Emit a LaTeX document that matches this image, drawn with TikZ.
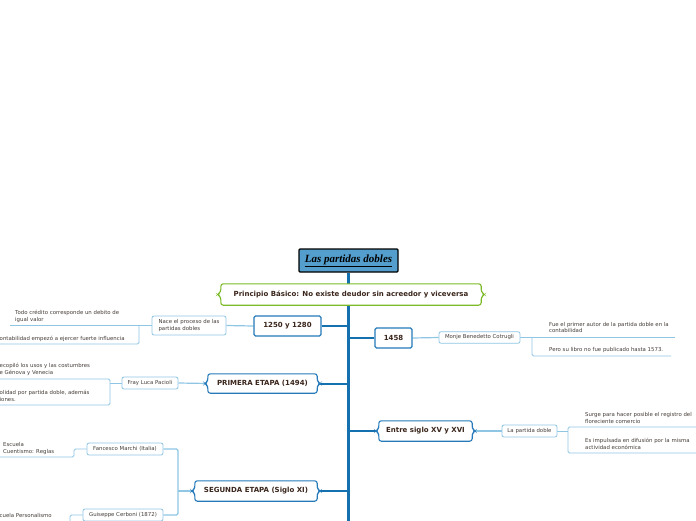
\documentclass[tikz,border=0pt]{standalone}
\usepackage{fontspec}
\newfontfamily\dv{DejaVu Sans}
\newfontfamily\tms{Liberation Serif}
\definecolor{trunkc}{RGB}{21,112,176}
\definecolor{mainb}{RGB}{38,122,186}
\definecolor{subb}{RGB}{142,198,228}
\definecolor{greenb}{RGB}{124,186,40}
\definecolor{titlef}{RGB}{84,158,205}
\definecolor{txt}{RGB}{58,38,28}
\definecolor{txt2}{RGB}{70,62,58}
\pgfdeclarelayer{back}
\pgfdeclarelayer{mid}
\pgfsetlayers{back,mid,main}
\tikzset{
 mainnode/.style={inner sep=0pt, font=\dv\bfseries\fontsize{7}{8.5}\selectfont, text=txt},
 boxnode/.style={mainnode, draw=mainb, fill=white, line width=1.1pt, rounded corners=1.5pt},
 bracenode/.style={mainnode},
 titlenode/.style={inner sep=0pt, draw=black, line width=1.3pt, rounded corners=1pt, fill=titlef, font=\tms\bfseries\itshape\fontsize{11}{13}\selectfont, text=black},
 subnode/.style={draw=subb, line width=0.8pt, rounded corners=2pt, inner sep=0pt, fill=white, font=\dv\fontsize{5.4}{6.8}\selectfont, text=txt2},
 leaf/.style={inner sep=0pt, anchor=south west, align=left, font=\dv\fontsize{5.4}{6.4}\selectfont, text=txt2},
 trunkline/.style={draw=trunkc, line width=3pt},
 branch/.style={draw=trunkc, line width=2pt},
 subline/.style={draw=subb, line width=1.2pt, rounded corners=1.5pt},
 leafline/.style={draw=subb, line width=0.8pt, rounded corners=1.5pt},
 braceblue/.style={draw=mainb, fill=white, line width=1.1pt},
 bracegreen/.style={draw=greenb, fill=white, line width=1.1pt},
}
\newcommand\bracepath[3]{%
 \draw[#1, rounded corners=2.5pt] (#2.north west) -- (#2.north east) -- ([yshift=2.5pt]#2.east) -- ([xshift=#3]#2.east) -- ([yshift=-2.5pt]#2.east) -- (#2.south east) -- (#2.south west) -- ([yshift=-2.5pt]#2.west) -- ([xshift=-#3]#2.west) -- ([yshift=2.5pt]#2.west) -- cycle;}
\begin{document}
\begin{tikzpicture}[x=1pt,y=-1pt]
\useasboundingbox (0,0) rectangle (696,520);
\clip (0,0) rectangle (696,520);
% main nodes
\node[titlenode, minimum width=99pt, minimum height=23pt] (title) at (348.5,260.5) {\underline{Las partidas dobles}};
\node[bracenode, minimum width=260pt, minimum height=21pt] (princ) at (351,294.5) {Principio Básico: No existe deudor sin acreedor y viceversa};
\node[boxnode, minimum width=67pt, minimum height=20pt] (k1250) at (287.5,326) {1250 y 1280};
\node[boxnode, minimum width=37pt, minimum height=20pt] (k1458) at (393.5,338) {1458};
\node[bracenode, minimum width=109pt, minimum height=19pt] (prim) at (262.5,383.5) {PRIMERA ETAPA (1494)};
\node[bracenode, minimum width=93pt, minimum height=20pt] (entre) at (425.5,431) {Entre siglo XV y XVI};
\node[bracenode, minimum width=122pt, minimum height=20pt] (seg) at (256,491) {SEGUNDA ETAPA (Siglo XI)};
% sub nodes
\node[subnode, minimum width=74pt, minimum height=19pt, align=left] (nace) at (189,325.5) {Nace el proceso de las\\partidas dobles};
\node[subnode, minimum width=56pt, minimum height=12pt] (fray) at (150,383) {Fray Luca Pacioli};
\node[subnode, minimum width=81pt, minimum height=11.5pt] (monje) at (479.5,337.5) {Monje Benedetto Cotrugli};
\node[subnode, minimum width=55pt, minimum height=12pt] (lpd) at (529.5,431) {La partida doble};
\node[subnode, minimum width=76pt, minimum height=12pt] (fanc) at (125,449) {Fancesco Marchi (Italia)};
\node[subnode, minimum width=80pt, minimum height=12pt] (guis) at (123,515) {Guiseppe Cerboni (1872)};
% leaves
\node[leaf] (t1) at (15,322.5) {Todo crédito corresponde un debito de\\igual valor};
\node[leaf] (t2) at (-0.5,341.5) {ontabilidad empezó a ejercer fuerte influencia};
\node[leaf] (t3) at (-0.5,375.5) {ecopiló los usos y las costumbres\\e Génova y Venecia};
\node[leaf] (t4) at (-0.5,401.5) {olidad por partida doble, además\\iones.};
\node[leaf] (t5) at (3,454.5) {Escuela\\Cuentismo: Reglas};
\node[leaf] (t6) at (-0.5,517.5) {cuela Personalismo};
\node[leaf] (t7) at (549,333) {Fue el primer autor de la partida doble en la\\contabilidad};
\node[leaf] (t8) at (549,352.5) {Pero su libro no fue publicado hasta 1573.};
\node[leaf] (t9) at (585,423.5) {Surge para hacer posible el registro del\\floreciente comercio};
\node[leaf] (t10) at (585,449.5) {Es impulsada en difusión por la misma\\actividad económica};
% coordinates
\coordinate (tend) at (348.5,522);
\coordinate (tb1) at (348.5,326);
\coordinate (tb2) at (348.5,338);
\coordinate (tb3) at (348.5,383.5);
\coordinate (tb4) at (348.5,431);
\coordinate (tb5) at (348.5,491);
\coordinate (segJ) at (178,491);
\coordinate (naJ) at (139,325.5);
\coordinate (lA) at (10,325.5);
\coordinate (lB) at (-2,344);
\coordinate (frJ) at (110,383);
\coordinate (frT) at (-2,379);
\coordinate (frJ2) at (110,405);
\coordinate (frB) at (-2,405);
\coordinate (faJ) at (74,457);
\coordinate (faB) at (-2,457);
\coordinate (guJ) at (70,523);
\coordinate (moJ) at (532,337.5);
\coordinate (moA) at (675,337.5);
\coordinate (moB) at (671,356);
\coordinate (lpJ) at (568,431);
\coordinate (lpA) at (698,427);
\coordinate (lpJ2) at (568,453);
\coordinate (lpB) at (698,453);
\begin{pgfonlayer}{back}
\fill[white] (0,0) rectangle (696,520);
\draw[trunkline] (title.south) -- (tend);
\draw[branch] (tb1) -- (k1250.east);
\draw[branch] (tb2) -- (k1458.west);
\draw[branch] (tb3) -- (prim.east);
\draw[branch] (tb4) -- (entre.west);
\draw[branch] (tb5) -- (seg.east);
\draw[subline] (k1250.west) -- (nace.east);
\draw[subline] (prim.west) -- (fray.east);
\draw[subline] (k1458.east) -- (monje.west);
\draw[subline] (entre.east) -- (lpd.west);
\draw[subline] (seg.west) -- (segJ);
\draw[subline] (fanc.east) -| (segJ);
\draw[subline] (guis.east) -| (segJ);
\draw[leafline] (nace.west) -- (lA);
\draw[leafline] (naJ) |- (lB);
\draw[leafline] (fray.west) -- (frJ);
\draw[leafline] (frT) -| (frJ2) -- (frB);
\draw[leafline] (fanc.west) -| (faJ) -- (faB);
\draw[leafline] (guis.west) -| (guJ);
\draw[leafline] (monje.east) -- (moA);
\draw[leafline] (moJ) |- (moB);
\draw[leafline] (lpd.east) -- (lpJ);
\draw[leafline] (lpA) -| (lpJ2) -- (lpB);
\end{pgfonlayer}
\begin{pgfonlayer}{mid}
\bracepath{bracegreen}{princ}{3.5pt}
\bracepath{braceblue}{prim}{3pt}
\bracepath{braceblue}{entre}{3pt}
\bracepath{braceblue}{seg}{3pt}
\end{pgfonlayer}
\end{tikzpicture}
\end{document}
